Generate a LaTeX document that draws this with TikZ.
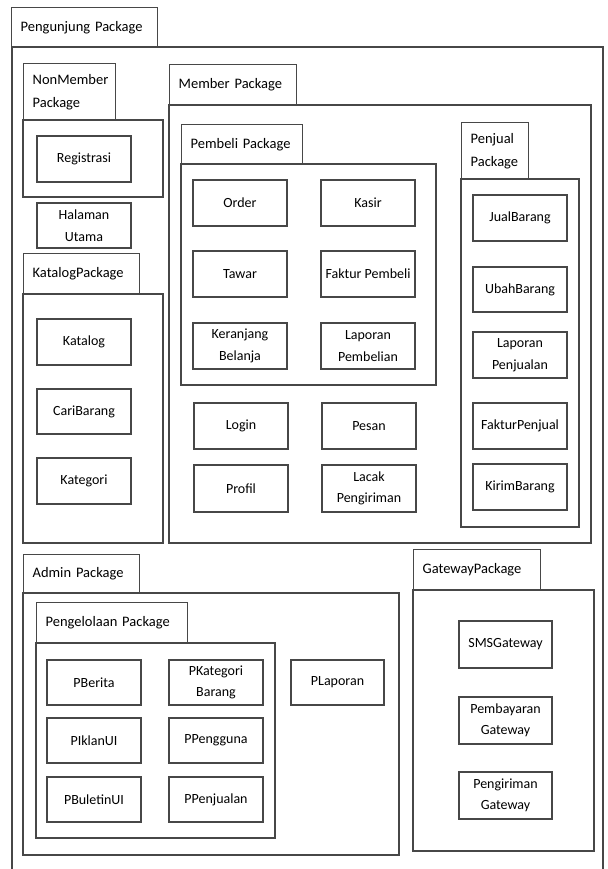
\documentclass[tikz,border=0pt]{standalone}
\usepackage{fontspec}
\setmainfont{Carlito}
\begin{document}
\begin{tikzpicture}[x=1pt,y=-1pt,
		line/.style={draw=black!72,line width=1.3pt},
		box/.style={line,minimum width=94pt,minimum height=46pt,align=center,inner sep=0pt,font=\fontsize{14}{21.5}\selectfont},
		tab/.style={line,anchor=north west,align=left,inner xsep=9pt,inner ysep=0pt,font=\fontsize{14.5}{23}\selectfont}]
			\useasboundingbox (0,0) rectangle (607,869);
			\draw[line] (12,869)--(12,47)--(603,47)--(603,869);
			\node[tab,text width=128pt,minimum height=40pt] (pengunjung) at (11,7) {Pengunjung Package};
			\node[tab,text width=74pt,minimum height=57pt] (nonmember) at (23,63) {NonMember\\Package};
			\draw[line] (23,120) rectangle (163,197);
			\node[tab,text width=98pt,minimum height=41pt] (katalogpkg) at (23,253) {KatalogPackage};
			\draw[line] (23,294) rectangle (163,543);
			\node[tab,text width=109pt,minimum height=41pt] (member) at (169,64) {Member Package};
			\draw[line] (169,105) rectangle (591,543);
			\node[tab,text width=103pt,minimum height=40pt] (pembeli) at (181,124) {Pembeli Package};
			\draw[line] (181,164) rectangle (436,385);
			\node[tab,text width=49pt,minimum height=57pt] (penjual) at (461,122) {Penjual\\Package};
			\draw[line] (461,179) rectangle (579,527);
			\node[tab,text width=98pt,minimum height=39pt] (admin) at (23,554) {Admin Package};
			\draw[line] (23,593) rectangle (399,855);
			\node[tab,text width=133pt,minimum height=41pt] (pengelolaan) at (36,602) {Pengelolaan Package};
			\draw[line] (36,643) rectangle (275,838);
			\node[tab,text width=109pt,minimum height=41pt] (gateway) at (413,549) {GatewayPackage};
			\draw[line] (413,590) rectangle (594,851);
			\node[box] (registrasi) at (84,159) {Registrasi};
			\node[box,minimum height=45pt] (halaman) at (84,225.5) {Halaman\\Utama};
			\node[box] (katalog) at (84,342) {Katalog};
			\node[box,minimum height=45pt] (caribarang) at (84,411.5) {CariBarang};
			\node[box] (kategori) at (84,481) {Kategori};
			\node[box] (order) at (240,203) {Order};
			\node[box] (kasir) at (368,203) {Kasir};
			\node[box] (tawar) at (240,274) {Tawar};
			\node[box] (fakturpembeli) at (368,274) {Faktur Pembeli};
			\node[box] (keranjang) at (240,346) {Keranjang\\Belanja};
			\node[box] (laporanpembelian) at (368,346) {Laporan\\Pembelian};
			\node[box] (login) at (241,426) {Login};
			\node[box] (pesan) at (369,426) {Pesan};
			\node[box,minimum height=47pt] (profil) at (241,488.5) {Profil};
			\node[box,minimum height=47pt] (lacak) at (369,488.5) {Lacak\\Pengiriman};
			\node[box] (jualbarang) at (520,218) {JualBarang};
			\node[box,minimum height=45pt] (ubahbarang) at (520,289.5) {UbahBarang};
			\node[box] (laporanpenjualan) at (520,355) {Laporan\\Penjualan};
			\node[box] (fakturpenjual) at (520,426) {FakturPenjual};
			\node[box] (kirimbarang) at (520,487) {KirimBarang};
			\node[box,minimum height=45pt] (pberita) at (94,682.5) {PBerita};
			\node[box,minimum height=45pt] (pkategori) at (216,682.5) {PKategori\\Barang};
			\node[box,minimum height=45pt] (piklanui) at (94,740.5) {PIklanUI};
			\node[box,minimum height=45pt] (ppengguna) at (216,740.5) {PPengguna};
			\node[box,minimum height=45pt] (pbuletinui) at (94,799.5) {PBuletinUI};
			\node[box,minimum height=45pt] (ppenjualan) at (216,799.5) {PPenjualan};
			\node[box,minimum width=93pt,minimum height=45pt] (plaporan) at (337.5,682.5) {PLaporan};
			\node[box,minimum width=93pt,minimum height=47pt] (smsgateway) at (505.5,644.5) {SMSGateway};
			\node[box,minimum width=93pt,minimum height=47pt] (pembayaran) at (505.5,720.5) {Pembayaran\\Gateway};
			\node[box,minimum width=93pt,minimum height=47pt] (pengiriman) at (505.5,795.5) {Pengiriman\\Gateway};
		\end{tikzpicture}
\end{document}
